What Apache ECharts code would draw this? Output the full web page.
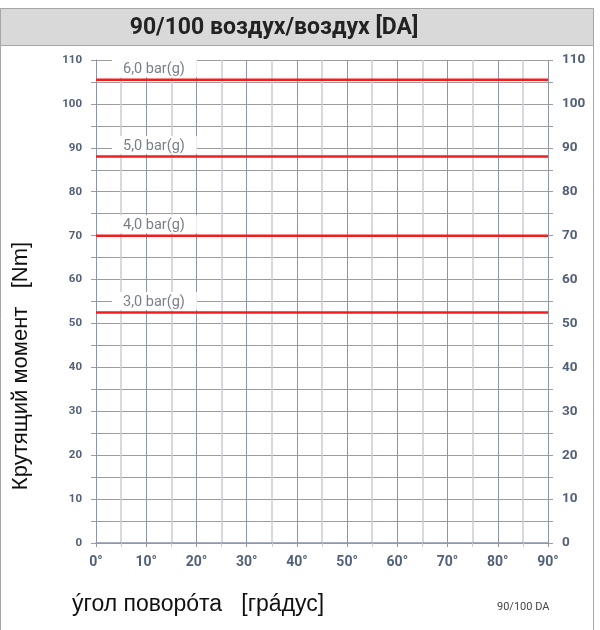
<!DOCTYPE html>
<html>
<head>
<meta charset="utf-8">
<title>90/100 DA</title>
<script src="https://cdn.jsdelivr.net/npm/echarts@6/dist/echarts.min.js"></script>
<style>
  html, body { margin: 0; padding: 0; background: #fff; }
  #chart { width: 600px; height: 630px; }
</style>
</head>
<body>
<div id="chart"></div>
<script>
// data
var pressures = ['6,0 bar(g)', '5,0 bar(g)', '4,0 bar(g)', '3,0 bar(g)']
var torque = [105.5, 88, 70, 52.5]          // Nm, constant over the stroke
var angleRange = [0, 90]                   // degrees
var torqueTicks = [0, 10, 20, 30, 40, 50, 60, 70, 80, 90, 100, 110]
var angleTicks = ['0°', '10°', '20°', '30°', '40°', '50°', '60°', '70°', '80°', '90°']

var slate = '#52607a'
var gridDark = '#8c95a9'
var gridLight = '#c9cdd6'
var gridH = '#9c9c9c'

var chart = echarts.init(document.getElementById('chart'))

function yAxisCfg (pos) {
  return {
    type: 'value',
    position: pos,
    min: torqueTicks[0],
    max: torqueTicks[torqueTicks.length - 1],
    interval: 10,
    axisLine: { show: pos === 'left', lineStyle: { color: gridDark, width: 1 } },
    axisTick: { show: true, length: 5, lineStyle: { color: gridH } },
    minorTick: { show: true, splitNumber: 2, length: 5, lineStyle: { color: gridH } },
    axisLabel: {
      margin: 14,
      color: slate,
      fontFamily: 'Roboto',
      fontWeight: 'bold',
      fontSize: pos === 'left' ? 11.5 : 13.5
    },
    splitLine: { show: pos === 'left', lineStyle: { color: gridH, width: 1 } },
    minorSplitLine: { show: pos === 'left', lineStyle: { color: gridH, width: 1 } }
  }
}

var series = pressures.map(function (name, i) {
  return {
    name: name,
    type: 'line',
    yAxisIndex: 0,
    symbol: 'circle',
    symbolSize: 1,
    showSymbol: true,
    itemStyle: { color: 'rgba(0,0,0,0)' },
    silent: true,
    lineStyle: { color: '#f21d1d', width: 2.5 },
    z: 5,
    label: { show: false },
    data: [
      {
        value: [angleRange[0], torque[i]],
        label: {
          show: true,
          position: 'top',
          align: 'left',
          distance: 0,
          offset: [16, -2],
          formatter: name,
          color: '#7a7f88',
          fontFamily: 'Roboto',
          fontSize: 14.5,
          backgroundColor: '#fff',
          padding: [3, 12, 0, 11]
        }
      },
      [angleRange[1], torque[i]]
    ]
  }
})

var option = {
  animation: false,
  backgroundColor: '#fff',
  grid: { left: 96, right: 52, top: 60, bottom: 87 },
  xAxis: {
    type: 'value',
    min: angleRange[0],
    max: angleRange[1],
    interval: 10,
    axisLine: { lineStyle: { color: gridDark, width: 1.5 } },
    axisTick: { show: true, length: 4, lineStyle: { color: gridDark } },
    minorTick: { show: true, splitNumber: 2, length: 4, lineStyle: { color: gridLight } },
    axisLabel: {
      margin: 12,
      color: slate,
      fontFamily: 'Roboto',
      fontWeight: 'bold',
      fontSize: 14,
      formatter: function (v) { return angleTicks[Math.round(v / 10)] }
    },
    splitLine: { show: true, lineStyle: { color: gridDark, width: 1 } },
    minorSplitLine: { show: true, lineStyle: { color: gridLight, width: 1.5 } }
  },
  yAxis: [yAxisCfg('left'), yAxisCfg('right')],
  graphic: [
    {
      type: 'rect', z: 0, silent: true,
      shape: { x: 0.5, y: 8.5, width: 593, height: 640 },
      style: { fill: 'none', stroke: '#a6a6a6', lineWidth: 1 }
    },
    {
      type: 'rect', z: 0, silent: true,
      shape: { x: 0.5, y: 8.5, width: 593, height: 37 },
      style: { fill: '#d9d9d9', stroke: '#a6a6a6', lineWidth: 1 }
    },
    {
      type: 'text', silent: true, x: 274, y: 28,
      style: {
        text: '90/100 воздух/воздух [DA]',
        fill: '#222', font: 'bold 23px Roboto',
        textAlign: 'center', textVerticalAlign: 'middle'
      }
    },
    {
      type: 'text', silent: true, x: 21, y: 366, rotation: Math.PI / 2,
      style: {
        text: 'Крутящий момент   [Nm]',
        fill: '#111', font: '22px "Liberation Sans", Arial',
        textAlign: 'center', textVerticalAlign: 'middle'
      }
    },
    {
      type: 'text', silent: true, x: 72, y: 605,
      style: {
        text: 'ýгол поворóта   [грáдус]',
        fill: '#111', font: '23px "Liberation Sans", Arial',
        textAlign: 'left', textVerticalAlign: 'middle'
      }
    },
    {
      type: 'text', silent: true, x: 497, y: 607,
      style: {
        text: '90/100 DA',
        fill: '#444', font: '11px Roboto',
        textAlign: 'left', textVerticalAlign: 'middle'
      }
    }
  ],
  series: series
}

chart.setOption(option)
</script>
</body>
</html>
